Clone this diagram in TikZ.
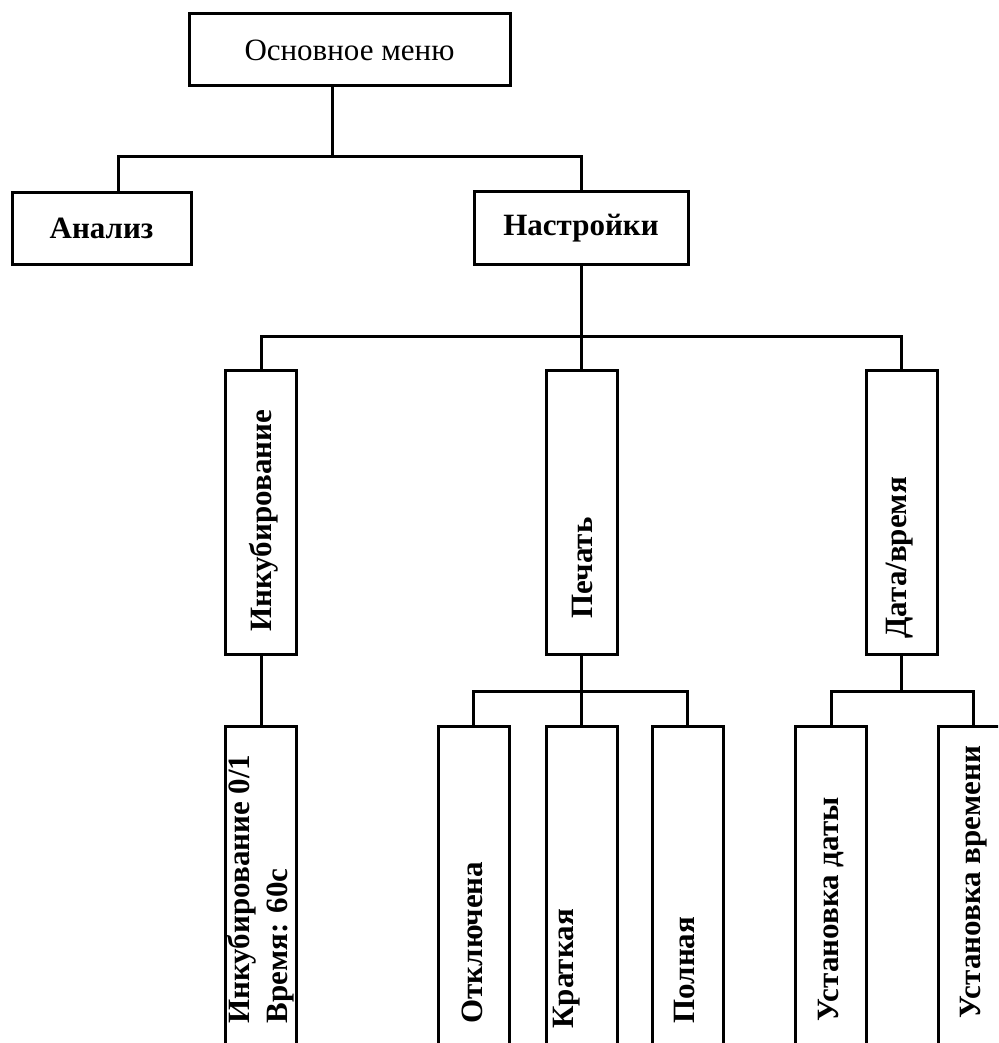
\documentclass[tikz,border=0pt]{standalone}
\usepackage{fontspec}
\setmainfont{Liberation Serif}
\usepackage{tikz}
\newcommand\lblfont{\fontsize{15.5}{19}\selectfont}

\begin{document}
\begin{tikzpicture}[x=0.5pt,y=-0.5pt,line width=1.5pt,font=\lblfont,
    hbox/.style={draw,inner sep=0pt,minimum height=36pt},
    vbox/.style={draw,inner sep=0pt,minimum width=35.5pt},
    vtxt/.style={rotate=90,anchor=west,inner sep=0pt,font=\lblfont\bfseries}]
  \useasboundingbox (0,0) rectangle (998,1043);
  \clip (0,0) rectangle (998,1043);

  % top levels
  \node[hbox,minimum width=160.5pt] (main) at (349.5,50) {Основное меню};
  \node[hbox,minimum width=89.5pt,font=\lblfont\bfseries] (analiz) at (101.5,228.5) {Анализ};
  \node[hbox,minimum width=107pt,font=\lblfont\bfseries] (nastr) at (581,228) {Настройки};

  % settings branches
  \node[vbox,minimum height=142pt] (inkub) at (261,512) {};
  \node[vbox,minimum height=142pt] (pechat) at (581.5,512) {};
  \node[vbox,minimum height=142pt] (data) at (901.5,512) {};
  \node[vtxt] (inkubL) at (264,633) {Инкубирование};
  \node[vtxt] (pechatL) at (582,620) {Печать};
  \node[vtxt] (dataL) at (900,640) {Дата/время};

  % leaves (run off the page)
  \node[vbox,minimum height=187pt] (inkubset) at (261,913) {};
  \node[vbox,minimum height=187pt] (otkl) at (473.5,913) {};
  \node[vbox,minimum height=187pt] (krat) at (581.5,913) {};
  \node[vbox,minimum height=187pt] (poln) at (687.5,913) {};
  \node[vbox,minimum height=187pt] (ustdat) at (831,913) {};
  \node[vbox,minimum height=187pt] (ustvr) at (973.5,913) {};
  \node[vtxt,align=left] (inkubsetL) at (261,1025) {Инкубирование 0/1\\Время: 60с};
  \node[vtxt] (otklL) at (472,1025) {Отключена};
  \node[vtxt] (kratL) at (567,1030) {Краткая};
  \node[vtxt] (polnL) at (684,1025) {Полная};
  \node[vtxt] (ustdatL) at (831,1023) {Установка даты};
  \node[vtxt] (ustvrL) at (974,1020) {Установка времени};

  % connectors
  \coordinate (t0) at (332,157);
  \coordinate (t1) at (118,157);
  \draw (main.south -| t0) -- (t0);
  \draw (analiz.north -| t1) -- (t1) -| (nastr.north);

  \path (nastr.south) ++(0,71) coordinate (t2);
  \draw (nastr.south) -- (t2);
  \draw (inkub.north) |- (t2) -| (data.north);
  \draw (pechat.north) -- (pechat.north |- t2);

  \draw (inkub.south) -- (inkubset.north);
  \path (pechat.south) ++(0,36) coordinate (t3);
  \draw (pechat.south) -- (t3);
  \draw (otkl.north) |- (t3) -| (poln.north);
  \draw (krat.north) -- (krat.north |- t3);
  \path (data.south) ++(0,36) coordinate (t4);
  \draw (data.south) -- (t4);
  \draw (ustdat.north) |- (t4) -| (ustvr.north);
\end{tikzpicture}
\end{document}
